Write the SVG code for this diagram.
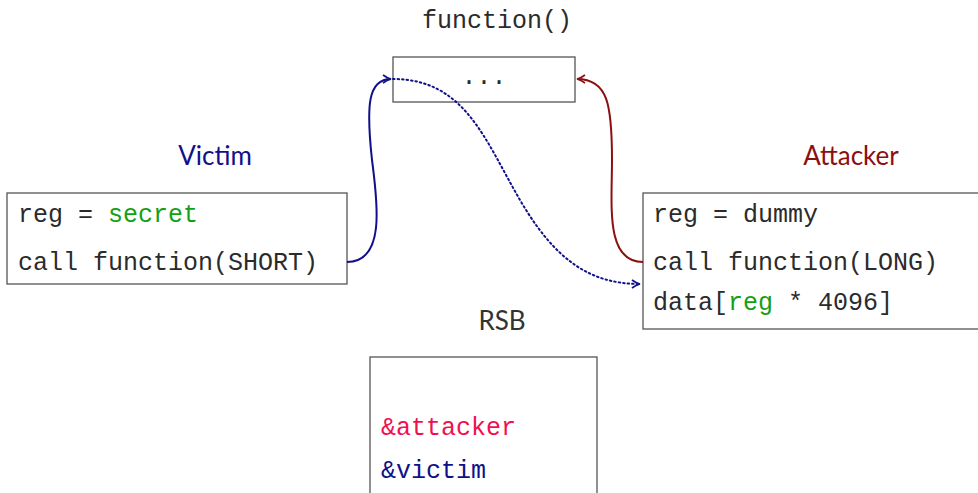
<svg xmlns="http://www.w3.org/2000/svg" width="978" height="493" viewBox="0 0 978 493">
<defs>
<style>
.mono{font-family:"Liberation Mono","DejaVu Sans Mono",monospace;font-size:25px;fill:#2b2b2b}
.sans{font-family:Lato,"Liberation Sans",sans-serif;font-size:26px;text-anchor:middle}
.box{fill:#fff;stroke:#555;stroke-width:1.3}
.g{fill:#14a014}
.con{fill:none;stroke-width:2}
</style>
<marker id="ab" viewBox="0 0 10 10" refX="9" refY="5" markerWidth="10" markerHeight="10" markerUnits="userSpaceOnUse" orient="auto">
<path d="M1,1 Q5,4 9,5 Q5,6 1,9" fill="none" stroke="#10108a" stroke-width="1.6"/>
</marker>
<marker id="ar" viewBox="0 0 10 10" refX="9" refY="5" markerWidth="10" markerHeight="10" markerUnits="userSpaceOnUse" orient="auto">
<path d="M1,1 Q5,4 9,5 Q5,6 1,9" fill="none" stroke="#8b1010" stroke-width="1.6"/>
</marker>
</defs>
<g id="function">
<text class="mono" x="497" y="28" text-anchor="middle">function()</text>
<rect class="box" x="393" y="57" width="182" height="45"/>
<text class="mono" x="484" y="84" text-anchor="middle">...</text>
</g>
<g id="victim">
<text class="sans" x="215" y="165" fill="#10108a">Victim</text>
<rect class="box" x="7" y="193" width="340" height="91"/>
<text class="mono" x="18" y="222">reg = <tspan class="g">secret</tspan></text>
<text class="mono" x="18" y="270">call function(SHORT)</text>
</g>
<g id="attacker">
<text class="sans" x="851" y="165" fill="#8b1010">Attacker</text>
<rect class="box" x="643" y="193" width="340" height="136"/>
<text class="mono" x="653" y="222">reg = dummy</text>
<text class="mono" x="653" y="270">call function(LONG)</text>
<text class="mono" x="653" y="310">data[<tspan class="g">reg</tspan> * 4096]</text>
</g>
<g id="rsb">
<text class="sans" x="502" y="330" fill="#333">RSB</text>
<rect class="box" x="370" y="357" width="227" height="140"/>
<text class="mono" x="381" y="435" fill="#f0104f" style="fill:#f0104f">&amp;attacker</text>
<text class="mono" x="381" y="478" style="fill:#10108a">&amp;victim</text>
</g>
<g id="connectors">
<path class="con" stroke="#10108a" d="M347,262 C385,262 378,205 372,160 C366,105 368,79 391,79" marker-end="url(#ab)"/>
<path class="con" stroke="#8b1010" d="M643,262 C605,262 612,205 612,160 C612,105 608,79 577,79" marker-end="url(#ar)"/>
<path class="con" stroke="#10108a" stroke-dasharray="1.5 3" stroke-linecap="round" d="M393,79 C465,79 485,140 520,200 C555,260 590,284 640,284" marker-end="url(#ab)"/>
</g>
</svg>
